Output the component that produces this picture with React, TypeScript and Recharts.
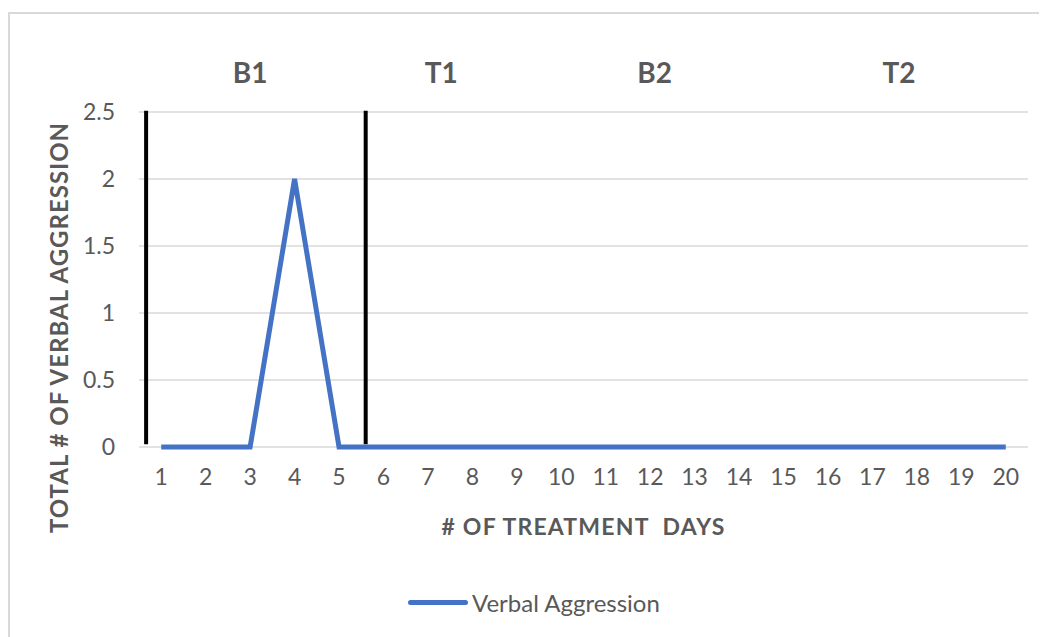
import {
  CartesianGrid,
  Line,
  LineChart,
  ReferenceDot,
  ReferenceLine,
  XAxis,
  YAxis,
} from 'recharts'

const days = [1, 2, 3, 4, 5, 6, 7, 8, 9, 10, 11, 12, 13, 14, 15, 16, 17, 18, 19, 20]
const verbalAggression = [0, 0, 0, 2, 0, 0, 0, 0, 0, 0, 0, 0, 0, 0, 0, 0, 0, 0, 0, 0]
const yTicks = [0, 0.5, 1, 1.5, 2, 2.5]

const phaseNames = ['B1', 'T1', 'B2', 'T2']
const phaseLabelDays = [3, 7.3, 12.1, 17.6]
const phaseChangeDays = [0.66, 5.6]

const FONT = 'Lato, "Open Sans", sans-serif'
const TEXT_GREY = '#595959'
const GRID_GREY = '#d9d9d9'
const BLUE = '#4472C4'

const rows = days.map((day, i) => ({ day, value: verbalAggression[i] }))

function YTitle({ viewBox }: any) {
  const cx = viewBox.x + 48
  const cy = viewBox.y + viewBox.height / 2 + 48
  return (
    <text
      x={cx}
      y={cy}
      transform={`rotate(-90 ${cx} ${cy})`}
      textAnchor="middle"
      dominantBaseline="central"
      fill={TEXT_GREY}
      fontWeight="bold"
      fontSize={24}
      letterSpacing={1}
      fontFamily={FONT}
    >
      TOTAL # OF VERBAL AGGRESSION
    </text>
  )
}

function XTitle({ viewBox }: any) {
  return (
    <text
      x={viewBox.x + viewBox.width / 2}
      y={viewBox.y + 79}
      textAnchor="middle"
      dominantBaseline="central"
      fill={TEXT_GREY}
      fontWeight="bold"
      fontSize={23}
      letterSpacing={1.2}
      fontFamily={FONT}
      style={{ whiteSpace: 'pre' }}
    >
      # OF TREATMENT  DAYS
    </text>
  )
}

function phaseLabel(name: string) {
  return ({ viewBox }: any) => (
    <text
      x={viewBox.x + (viewBox.width || 0) / 2}
      y={viewBox.y + (viewBox.height || 0) / 2 - 40}
      textAnchor="middle"
      dominantBaseline="central"
      fill={TEXT_GREY}
      fontWeight="bold"
      fontSize={28}
      fontFamily={FONT}
    >
      {name}
    </text>
  )
}

export default function App() {
  return (
    <div
      style={{
        position: 'relative',
        marginTop: 4,
        width: 1039,
        height: 625,
        borderTop: `2px solid ${GRID_GREY}`,
        borderLeft: `2px solid ${GRID_GREY}`,
        boxSizing: 'border-box',
        fontFamily: FONT,
      }}
    >
      <LineChart
        width={1037}
        height={623}
        data={rows}
        margin={{ top: 98, right: 19, bottom: 150, left: 0 }}
      >
        <CartesianGrid vertical={false} stroke={GRID_GREY} strokeWidth={1.5} />
        <XAxis
          dataKey="day"
          type="number"
          domain={[0.5, 20.5]}
          ticks={days}
          interval={0}
          height={40}
          tickSize={0}
          tickMargin={22}
          axisLine={false}
          tick={{ fill: TEXT_GREY, fontSize: 23, fontFamily: FONT }}
          label={{ content: XTitle }}
        />
        <YAxis
          type="number"
          domain={[0, 2.5]}
          ticks={yTicks}
          width={129}
          tickSize={0}
          tickMargin={24}
          axisLine={false}
          tick={{ fill: TEXT_GREY, fontSize: 23, fontFamily: FONT }}
          label={{ content: YTitle }}
        />
        {phaseChangeDays.map((d) => (
          <ReferenceLine
            key={`chg-${d}`}
            segment={[
              { x: d, y: 0.02 },
              { x: d, y: 2.51 },
            ]}
            stroke="#000000"
            strokeWidth={4}
            ifOverflow="visible"
          />
        ))}
        {phaseNames.map((name, i) => (
          <ReferenceDot
            key={name}
            x={phaseLabelDays[i]}
            y={2.5}
            r={0}
            fill="none"
            stroke="none"
            ifOverflow="visible"
            label={{ content: phaseLabel(name) }}
          />
        ))}
        <Line
          dataKey="value"
          type="linear"
          stroke={BLUE}
          strokeWidth={5}
          dot={false}
          activeDot={false}
          isAnimationActive={false}
        />
      </LineChart>
      <div
        style={{
          position: 'absolute',
          left: 398,
          top: 576,
          height: 24,
          display: 'flex',
          alignItems: 'center',
          color: TEXT_GREY,
          fontSize: 24,
          fontFamily: FONT,
        }}
      >
        <span
          style={{
            display: 'inline-block',
            width: 60,
            height: 5,
            background: BLUE,
            borderRadius: 3,
            marginRight: 4,
          }}
        />
        <span>Verbal Aggression</span>
      </div>
    </div>
  )
}
